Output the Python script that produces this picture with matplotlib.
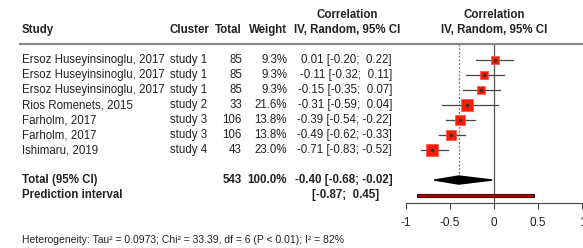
import numpy as np
import matplotlib
matplotlib.use('agg')
import matplotlib.pyplot as plt
import matplotlib.transforms as mtransforms
from matplotlib.lines import Line2D

plt.rcParams['font.family'] = ['Liberation Sans', 'DejaVu Sans']

# study data
studies = ['Ersoz Huseyinsinoglu, 2017', 'Ersoz Huseyinsinoglu, 2017', 'Ersoz Huseyinsinoglu, 2017',
           'Rios Romenets, 2015', 'Farholm, 2017', 'Farholm, 2017', 'Ishimaru, 2019']
clusters = ['study 1', 'study 1', 'study 1', 'study 2', 'study 3', 'study 3', 'study 4']
totals = [85, 85, 85, 33, 106, 106, 43]
weights = [9.3, 9.3, 9.3, 21.6, 13.8, 13.8, 23.0]
est = [0.01, -0.11, -0.15, -0.31, -0.39, -0.49, -0.71]
lower = [-0.20, -0.32, -0.35, -0.59, -0.54, -0.62, -0.83]
upper = [0.22, 0.11, 0.07, 0.04, -0.22, -0.33, -0.52]

# pooled
pooled_n = 543
pooled_w = 100.0
pooled_est = -0.40
pooled_lo = -0.68
pooled_hi = -0.02
pred_lo = -0.87
pred_hi = 0.45
hetero = 'Heterogeneity: Tau² = 0.0973; Chi² = 33.39, df = 6 (P < 0.01); I² = 82%'

xticks = [-1, -0.5, 0, 0.5, 1]
xticklabels = ['-1', '-0.5', '0', '0.5', '1']

W, H = 583, 248
fig = plt.figure(figsize=(W / 100, H / 100), dpi=100)
fig.patch.set_facecolor('white')

# forest panel: -1 at px 406, 1 at px 582; top at px 44, axis at px 203
ax = fig.add_axes([406 / W, (H - 203) / H, 176 / W, 159 / H])
ax.set_xlim(-1, 1)
ytop, ybot = -1.07, 9.53
ax.set_ylim(ybot, ytop)
for s in ['top', 'left', 'right']:
    ax.spines[s].set_visible(False)
ax.spines['bottom'].set_color('#444444')
ax.set_yticks([])
ax.set_xticks(xticks)
ax.set_xticklabels(xticklabels)
ax.tick_params(axis='x', length=4, pad=6, labelsize=8.5, color='#444444', labelcolor='#222222')
ax.patch.set_alpha(0)

rows = np.arange(len(studies))
row_total = len(studies) + 1
row_pred = len(studies) + 2

ax.axvline(0, color='#555555', lw=0.9, zorder=1)
ax.plot([pooled_est, pooled_est], [ytop, row_total - 0.2], color='#777777', lw=0.9,
        linestyle=(0, (1.5, 1.5)), zorder=1)

text_c = '#222222'
for i in rows:
    ax.plot([lower[i], upper[i]], [i, i], color='#444444', lw=0.9, zorder=2)
    side = 12 * np.sqrt(weights[i] / 23.0) * 0.72
    ax.plot(est[i], i, marker='s', ms=side, mfc='#ff1a00', mec='#ff4d4d', mew=0.5, zorder=3)
    ax.plot(est[i], i, marker='o', ms=1.6, color='#333333', zorder=4)

# diamond
ax.fill([pooled_lo, pooled_est, pooled_hi, pooled_est],
        [row_total, row_total - 0.27, row_total, row_total + 0.27],
        color='black', zorder=3)
# prediction interval
ax.fill([pred_lo, pred_hi, pred_hi, pred_lo],
        [row_pred - 0.1, row_pred - 0.1, row_pred + 0.1, row_pred + 0.1],
        facecolor='#b80000', edgecolor='#3a1010', lw=0.8, zorder=3)

# table text: x in figure pixels, y in row units
tr = mtransforms.blended_transform_factory(fig.transFigure, ax.transData)
fs = 8.3


def px(x):
    return x / W


hdr = -2.0
fig.text(px(22), hdr, 'Study', transform=tr, fontsize=fs, weight='bold', va='center', color=text_c)
fig.text(px(169), hdr, 'Cluster', transform=tr, fontsize=fs, weight='bold', va='center', color=text_c)
fig.text(px(242), hdr, 'Total', transform=tr, fontsize=fs, weight='bold', va='center', ha='right', color=text_c)
fig.text(px(287), hdr, 'Weight', transform=tr, fontsize=fs, weight='bold', va='center', ha='right', color=text_c)
fig.text(px(347), hdr - 1, 'Correlation', transform=tr, fontsize=fs, weight='bold', va='center', ha='center', color=text_c)
fig.text(px(347), hdr, 'IV, Random, 95% CI', transform=tr, fontsize=fs, weight='bold', va='center', ha='center', color=text_c)
fig.text(px(494), hdr - 1, 'Correlation', transform=tr, fontsize=fs, weight='bold', va='center', ha='center', color=text_c)
fig.text(px(494), hdr, 'IV, Random, 95% CI', transform=tr, fontsize=fs, weight='bold', va='center', ha='center', color=text_c)

fig.add_artist(Line2D([px(20), 1.0], [ytop, ytop], transform=tr, color='#888888', lw=1.6))


def fmt(v):
    return f' {v:.2f}' if v < 0 else f'  {v:.2f}'


for i in rows:
    fig.text(px(22), i, studies[i], transform=tr, fontsize=fs, va='center', color=text_c)
    fig.text(px(170), i, clusters[i], transform=tr, fontsize=fs, va='center', color=text_c)
    fig.text(px(242), i, str(totals[i]), transform=tr, fontsize=fs, va='center', ha='right', color=text_c)
    fig.text(px(287), i, f'{weights[i]:.1f}%', transform=tr, fontsize=fs, va='center', ha='right', color=text_c)
    ci = f'{est[i]:.2f} [{lower[i]:.2f};{fmt(upper[i])}]'
    fig.text(px(392), i, ci, transform=tr, fontsize=fs, va='center', ha='right', color=text_c)

fig.text(px(22), row_total, 'Total (95% CI)', transform=tr, fontsize=fs, weight='bold', va='center', color=text_c)
fig.text(px(242), row_total, str(pooled_n), transform=tr, fontsize=fs, weight='bold', va='center', ha='right', color=text_c)
fig.text(px(287), row_total, f'{pooled_w:.1f}%', transform=tr, fontsize=fs, weight='bold', va='center', ha='right', color=text_c)
fig.text(px(393), row_total, f'{pooled_est:.2f} [{pooled_lo:.2f};{fmt(pooled_hi)}]', transform=tr,
         fontsize=fs, weight='bold', va='center', ha='right', color=text_c)
fig.text(px(22), row_pred, 'Prediction interval', transform=tr, fontsize=fs, weight='bold', va='center', color=text_c)
fig.text(px(379), row_pred, f'[{pred_lo:.2f};{fmt(pred_hi)}]', transform=tr, fontsize=fs, weight='bold',
         va='center', ha='right', color=text_c)

fig.text(px(22), 12.0, hetero, transform=tr, fontsize=7.5, va='center', color=text_c)

fig.savefig('out.png', dpi=100)
